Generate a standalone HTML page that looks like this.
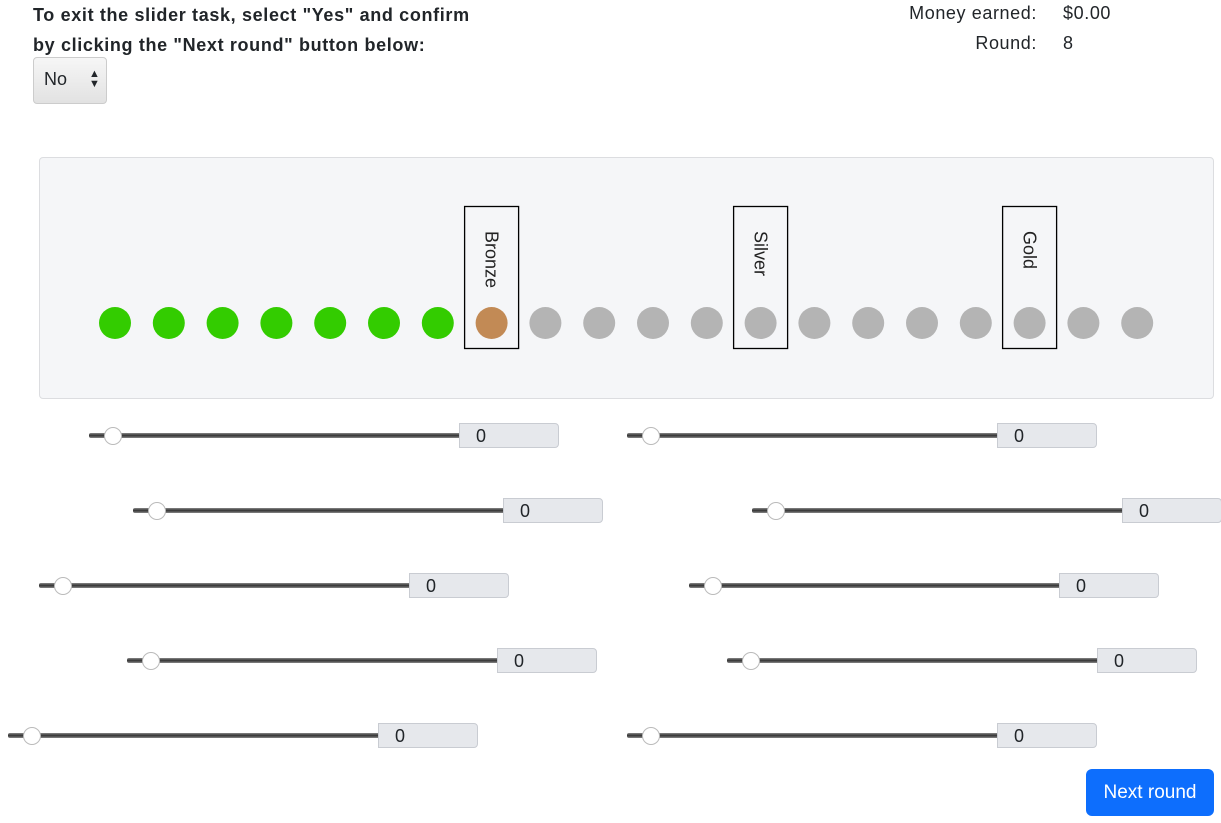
<!DOCTYPE html>
<html><head><meta charset="utf-8">
<style>
*{box-sizing:border-box}
body{margin:0;width:1221px;height:823px;position:relative;background:#fff;font-family:"Liberation Sans",Arial,sans-serif;color:#212529;overflow:hidden}
.abs{position:absolute}
.head{left:33px;top:0;font-weight:bold;font-size:18px;line-height:30px;letter-spacing:0.65px}
.sel{left:33px;top:57px;width:74px;height:47px;border:1px solid #ccc;border-radius:4px;background:linear-gradient(#f6f6f6,#e2e2e2);font-size:18px;padding:11px 0 0 10px}
.lab{font-size:18px;line-height:30px;letter-spacing:0.6px}
.panel{left:39px;top:157px;width:1175px;height:242px;background:#f5f6f8;border:1px solid #dcdde0;border-radius:4px}
.track{height:5px;background:linear-gradient(#888,#333,#888);border-radius:2px}
.thumb{width:18px;height:18px;border-radius:50%;background:#fff;border:1px solid #bbb}
.val{width:100px;height:25px;background:#e6e8ec;border:1px solid #c9ccd2;border-radius:0 4px 4px 0;font-size:18px;padding:2px 0 0 16px}
.btn{left:1086px;top:769px;width:128px;height:47px;background:#0d6efd;color:#fff;border-radius:6px;font-size:19px;text-align:center;line-height:47px}
</style></head><body>
<div class="abs head">To exit the slider task, select "Yes" and confirm<br>by clicking the "Next round" button below:</div>
<div class="abs sel">No<span style="position:absolute;left:55px;top:11px;font-size:11px;line-height:10px">▲<br>▼</span></div>
<div class="abs lab" style="right:184px;top:-2px;text-align:right">Money earned:<br>Round:</div>
<div class="abs lab" style="left:1063px;top:-2px">$0.00<br>8</div>
<div class="abs panel"></div>
<svg class="abs" style="left:0;top:0" width="1221" height="823" id="prog"></svg>
<div id="sliders"></div>
<div class="abs btn">Next round</div>
<script>
const circleStates=["done","done","done","done","done","done","done","bronze","todo","todo","todo","todo","todo","todo","todo","todo","todo","todo","todo","todo"];
const markerLabels=["Bronze","Silver","Gold"];
const markerIndex=[7,12,17];
const colors={done:"#33cc00",bronze:"#c28a55",todo:"#b4b4b4"};
const NS="http://www.w3.org/2000/svg";
const svg=document.getElementById('prog');
function cx(i){return 115+i*53.8;}
circleStates.forEach((s,i)=>{
  const c=document.createElementNS(NS,'circle');
  c.setAttribute('cx',cx(i));c.setAttribute('cy',323);c.setAttribute('r',16);c.setAttribute('fill',colors[s]);
  
  
  svg.appendChild(c);
});
markerLabels.forEach((l,k)=>{
  const x=cx(markerIndex[k]);
  const r=document.createElementNS(NS,'rect');
  r.setAttribute('x',x-27);r.setAttribute('y',206.5);r.setAttribute('width',54);r.setAttribute('height',142);
  r.setAttribute('fill','none');r.setAttribute('stroke','#000');r.setAttribute('stroke-width',1.3);
  
  
  svg.appendChild(r);
  const t=document.createElementNS(NS,'text');
  t.setAttribute('transform',`translate(${x-6},231) rotate(90)`);
  t.setAttribute('font-size',18);t.setAttribute('font-family','Liberation Sans, sans-serif');t.setAttribute('fill','#222');
  t.textContent=l;
  
  
  svg.appendChild(t);
});
const sliderStarts=[[89,627],[133,752],[39,689],[127,727],[8,627]];
const sliderValues=[0,0,0,0,0,0,0,0,0,0];
const cont=document.getElementById('sliders');
let n=0;
sliderStarts.forEach((row,ri)=>{
  const y=436+ri*75;
  row.forEach(x=>{
    const d=document.createElement('div');
    d.className='abs';d.style.left=x+'px';d.style.top=(y-13)+'px';d.style.width='470px';d.style.height='26px';
    
    
    d.innerHTML=`<div class="abs track" style="left:0;top:10px;width:372px"></div><div class="abs thumb" style="left:15px;top:4px"></div><div class="abs val" style="left:370px;top:0">${sliderValues[n]}</div>`;
    cont.appendChild(d);n++;
  });
});
</script>
</body></html>
